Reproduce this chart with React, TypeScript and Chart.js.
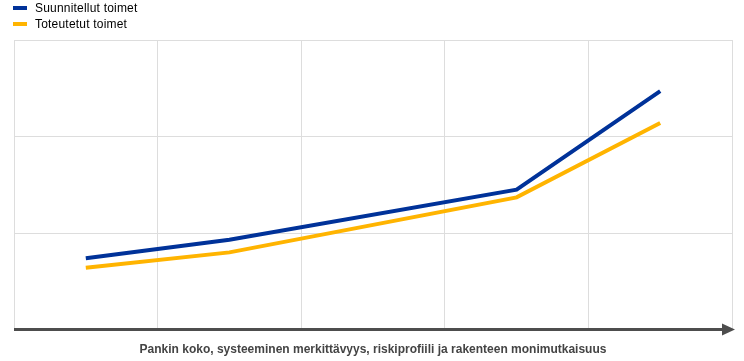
import React, { useEffect, useRef } from "react";
import { Chart, registerables } from "chart.js";

Chart.register(...registerables);

const xPositions = [0.5, 1.5, 3.5, 4.5];
const plannedValues = [0.74, 0.93, 1.45, 2.47];
const realizedValues = [0.64, 0.80, 1.37, 2.14];
const seriesLabels = ["Suunnitellut toimet", "Toteutetut toimet"];
const seriesColors = ["#003299", "#FFB400"];
const xAxisTitle = "Pankin koko, systeeminen merkittävyys, riskiprofiili ja rakenteen monimutkaisuus";

const arrowPlugin = {
  id: "arrowAxis",
  afterDatasetsDraw(chart: any) {
    const { ctx, chartArea } = chart;
    const y = chartArea.bottom;
    ctx.save();
    ctx.strokeStyle = "#4d4d4d";
    ctx.fillStyle = "#4d4d4d";
    ctx.lineWidth = 3;
    ctx.beginPath();
    ctx.moveTo(chartArea.left, y);
    ctx.lineTo(chartArea.right - 8, y);
    ctx.stroke();
    ctx.beginPath();
    ctx.moveTo(chartArea.right - 10, y - 6);
    ctx.lineTo(chartArea.right + 3, y);
    ctx.lineTo(chartArea.right - 10, y + 6);
    ctx.closePath();
    ctx.fill();
    ctx.restore();
  },
};

export default function App() {
  const ref = useRef<HTMLCanvasElement>(null);
  useEffect(() => {
    if (!ref.current) return;
    const chart = new Chart(ref.current, {
      type: "line",
      data: {
        datasets: [
          {
            label: seriesLabels[0],
            data: xPositions.map((x, i) => ({ x, y: plannedValues[i] })),
            borderColor: seriesColors[0],
            backgroundColor: seriesColors[0],
            borderWidth: 4,
            pointRadius: 0,
            tension: 0,
          },
          {
            label: seriesLabels[1],
            data: xPositions.map((x, i) => ({ x, y: realizedValues[i] })),
            borderColor: seriesColors[1],
            backgroundColor: seriesColors[1],
            borderWidth: 4,
            pointRadius: 0,
            tension: 0,
          },
        ],
      },
      options: {
        animation: false,
        responsive: false,
        layout: { padding: { left: 14, right: 12, top: 40, bottom: 4 } },
        plugins: { legend: { display: false }, tooltip: { enabled: false } },
        scales: {
          x: {
            type: "linear",
            min: 0,
            max: 5,
            ticks: { display: false, stepSize: 1 },
            grid: { color: "#dddddd", drawTicks: false, lineWidth: 1 },
            border: { display: false },
            title: {
              display: true,
              text: xAxisTitle,
              color: "#444444",
              font: { family: "Liberation Sans, Arial, sans-serif", size: 12, weight: "bold" },
              padding: { top: 13, bottom: 0 },
            },
          },
          y: {
            min: 0,
            max: 3,
            ticks: { display: false, stepSize: 1 },
            grid: { color: "#dddddd", drawTicks: false, lineWidth: 1 },
            border: { display: false },
          },
        },
      },
      plugins: [arrowPlugin],
    });
    return () => chart.destroy();
  }, []);

  const legendItem = (label: string, color: string, top: number) => (
    <div
      style={{
        position: "absolute",
        left: 13,
        top,
        display: "flex",
        alignItems: "center",
        fontFamily: "Liberation Sans, Arial, sans-serif",
        fontSize: 12,
        letterSpacing: "0.2px",
        color: "#000",
        lineHeight: "14px",
      }}
    >
      <span style={{ display: "inline-block", width: 14, height: 4, background: color, marginRight: 8 }} />
      <span>{label}</span>
    </div>
  );

  return (
    <div style={{ position: "fixed", left: 0, top: 0, width: 744, height: 361, background: "#fff" }}>
      <canvas ref={ref} width={744} height={361} style={{ position: "absolute", left: 0, top: 0 }} />
      {legendItem(seriesLabels[0], seriesColors[0], 1)}
      {legendItem(seriesLabels[1], seriesColors[1], 17)}
    </div>
  );
}
